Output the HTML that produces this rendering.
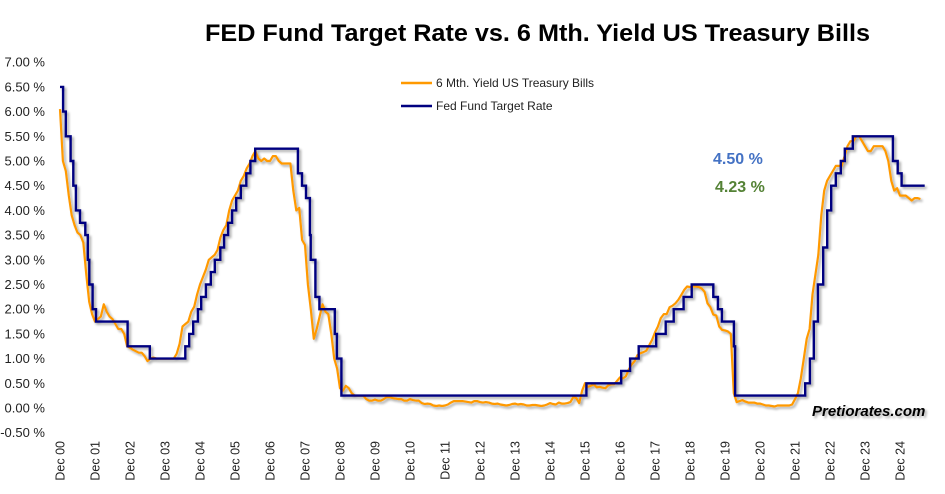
<!DOCTYPE html>
<html><head><meta charset="utf-8">
<style>
html,body{margin:0;padding:0;background:#fff;}
svg{display:block;font-family:"Liberation Sans",Arial,sans-serif;}
</style></head>
<body>
<svg id="chart" width="945" height="494" viewBox="0 0 945 494">
<defs>
<filter id="sh" x="-5%" y="-5%" width="110%" height="110%">
<feGaussianBlur in="SourceAlpha" stdDeviation="1.2"/>
<feOffset dx="2" dy="2" result="o"/>
<feComponentTransfer><feFuncA type="linear" slope="0.35"/></feComponentTransfer>
<feMerge><feMergeNode/><feMergeNode in="SourceGraphic"/></feMerge>
</filter>
</defs>
<text x="205" y="41" font-size="24" font-weight="bold" fill="#000" textLength="665" lengthAdjust="spacingAndGlyphs">FED Fund Target Rate vs. 6 Mth. Yield US Treasury Bills</text>
<g id="yaxis"></g>
<g id="xaxis"></g>
<g id="series" filter="url(#sh)"></g>
<g>
<line x1="401" y1="83" x2="432" y2="83" stroke="#FF9900" stroke-width="2.5"/>
<text x="436" y="87" font-size="12" fill="#222">6 Mth. Yield US Treasury Bills</text>
<line x1="401" y1="106" x2="432" y2="106" stroke="#000080" stroke-width="2.5"/>
<text x="436" y="110" font-size="12" fill="#222">Fed Fund Target Rate</text>
</g>
<text x="713" y="164" font-size="16" font-weight="bold" fill="#4472C4">4.50 %</text>
<text x="715" y="192" font-size="16" font-weight="bold" fill="#548235">4.23 %</text>
<text x="812" y="416" font-size="15" font-weight="bold" font-style="italic" fill="#000" filter="url(#sh)">Pretiorates.com</text>
</svg>
<script>
const yTicks = [-0.5,0,0.5,1,1.5,2,2.5,3,3.5,4,4.5,5,5.5,6,6.5,7];
const xTickLabels = ["Dec 00","Dec 01","Dec 02","Dec 03","Dec 04","Dec 05","Dec 06","Dec 07","Dec 08","Dec 09","Dec 10","Dec 11","Dec 12","Dec 13","Dec 14","Dec 15","Dec 16","Dec 17","Dec 18","Dec 19","Dec 20","Dec 21","Dec 22","Dec 23","Dec 24"];
const fedDates = ["2000-12-01","2001-01-03","2001-01-31","2001-03-20","2001-04-18","2001-05-15","2001-06-27","2001-08-21","2001-09-17","2001-10-02","2001-11-06","2001-12-11","2002-11-06","2003-06-25","2004-06-30","2004-08-10","2004-09-21","2004-11-10","2004-12-14","2005-02-02","2005-03-22","2005-05-03","2005-06-30","2005-08-09","2005-09-20","2005-11-01","2005-12-13","2006-01-31","2006-03-28","2006-05-10","2006-06-29","2007-09-18","2007-10-31","2007-12-11","2008-01-22","2008-01-30","2008-03-18","2008-04-30","2008-10-08","2008-10-29","2008-12-16","2015-12-16","2016-12-14","2017-03-15","2017-06-14","2017-12-13","2018-03-21","2018-06-13","2018-09-26","2018-12-19","2019-07-31","2019-09-18","2019-10-30","2020-03-03","2020-03-15","2022-03-16","2022-05-04","2022-06-15","2022-07-27","2022-09-21","2022-11-02","2022-12-14","2023-02-01","2023-03-22","2023-05-03","2023-07-26","2024-09-18","2024-11-07","2024-12-18","2025-08-15"];
const fedRates = [6.5,6.0,5.5,5.0,4.5,4.0,3.75,3.5,3.0,2.5,2.0,1.75,1.25,1.0,1.25,1.5,1.75,2.0,2.25,2.5,2.75,3.0,3.25,3.5,3.75,4.0,4.25,4.5,4.75,5.0,5.25,4.75,4.5,4.25,3.5,3.0,2.25,2.0,1.5,1.0,0.25,0.5,0.75,1.0,1.25,1.5,1.75,2.0,2.25,2.5,2.25,2.0,1.75,1.25,0.25,0.5,1.0,1.75,2.5,3.25,4.0,4.5,4.75,5.0,5.25,5.5,5.0,4.75,4.5,4.5];
const yieldStart = "2000-12-01";
const yieldMonthly = [6.05,
5.0,4.8,4.3,3.9,3.7,3.55,3.5,3.35,2.7,2.15,1.9,1.75,
1.8,1.85,2.1,1.95,1.85,1.8,1.7,1.6,1.6,1.5,1.25,1.22,
1.18,1.15,1.12,1.12,1.05,0.95,1.0,1.02,1.0,1.0,1.0,1.0,
1.0,1.0,1.0,1.1,1.3,1.65,1.7,1.75,1.95,2.05,2.3,2.5,
2.65,2.8,3.0,3.05,3.1,3.2,3.45,3.6,3.7,4.0,4.2,4.3,
4.4,4.6,4.7,4.85,4.95,5.1,5.2,5.05,5.0,5.05,5.0,5.0,
5.1,5.1,5.0,4.95,4.95,4.95,4.95,4.4,4.0,4.05,3.4,3.3,
2.5,2.0,1.4,1.6,1.85,2.1,1.95,1.9,1.5,1.0,0.8,0.4,
0.35,0.45,0.4,0.3,0.25,0.25,0.25,0.25,0.18,0.15,0.15,0.17,
0.15,0.15,0.18,0.22,0.22,0.2,0.19,0.18,0.18,0.15,0.15,0.18,
0.16,0.15,0.15,0.1,0.08,0.09,0.08,0.05,0.04,0.05,0.04,0.05,
0.07,0.11,0.14,0.14,0.14,0.14,0.13,0.12,0.11,0.14,0.14,0.12,
0.11,0.12,0.11,0.09,0.08,0.09,0.07,0.06,0.05,0.06,0.08,0.09,
0.07,0.08,0.07,0.05,0.05,0.06,0.06,0.05,0.04,0.05,0.07,0.1,
0.08,0.07,0.11,0.09,0.09,0.1,0.12,0.22,0.2,0.1,0.35,0.5,
0.43,0.45,0.48,0.42,0.43,0.41,0.4,0.46,0.48,0.48,0.55,0.62,
0.6,0.64,0.78,0.88,0.95,1.07,1.11,1.13,1.16,1.27,1.38,1.53,
1.65,1.82,1.9,1.9,2.04,2.07,2.12,2.19,2.29,2.39,2.46,2.45,
2.46,2.46,2.45,2.42,2.35,2.12,2.04,1.89,1.87,1.65,1.58,1.57,
1.55,1.5,0.3,0.12,0.14,0.16,0.13,0.11,0.11,0.11,0.09,0.09,
0.07,0.05,0.05,0.04,0.03,0.05,0.05,0.05,0.05,0.05,0.07,0.18,
0.3,0.6,1.0,1.4,1.6,2.3,2.7,3.1,3.9,4.4,4.6,4.7,
4.8,4.9,4.9,4.9,5.1,5.3,5.4,5.4,5.5,5.5,5.4,5.3,
5.2,5.2,5.3,5.3,5.3,5.3,5.2,5.0,4.6,4.4,4.45,4.3,
4.3,4.3,4.25,4.2,4.25,4.25,4.23];

const NS = "http://www.w3.org/2000/svg";
const X0 = 60, PXY = 35, Y0 = 408, PXP = 49.4;
function tOf(s){const p=s.split("-").map(Number);return (p[0]-2000)+(p[1]-12)/12+(p[2]-1)/365;}
function xs(t){return X0+PXY*t;}
function ys(v){return Y0-PXP*v;}
function mk(tag,attrs,parent){const e=document.createElementNS(NS,tag);for(const k in attrs)e.setAttribute(k,attrs[k]);parent.appendChild(e);return e;}

const ya=document.getElementById("yaxis");
yTicks.forEach(v=>{
  const t=mk("text",{x:45,y:ys(v)+4.5,"font-size":13,"text-anchor":"end",fill:"#222"},ya);
  
  
  t.textContent=v.toFixed(2)+" %";
});
const xa=document.getElementById("xaxis");
xTickLabels.forEach((lab,i)=>{
  const x=xs(i)+4.5;
  const t=mk("text",{x:0,y:0,"font-size":12.5,"text-anchor":"end",fill:"#222",transform:`translate(${x},441) rotate(-90)`},xa);
  
  
  t.textContent=lab;
});
const g=document.getElementById("series");
const ts0=tOf(yieldStart);
let d="";
yieldMonthly.forEach((v,i)=>{d+=(i?"L":"M")+xs(ts0+i/12).toFixed(1)+","+ys(v).toFixed(1);});
const yl=mk("path",{d:d,fill:"none",stroke:"#FF9900","stroke-width":2.2,"stroke-linejoin":"round"},g);


let fd="";
fedDates.forEach((ds,i)=>{
  const x=xs(tOf(ds)).toFixed(1);
  if(i===0) fd+="M"+x+","+ys(fedRates[0]).toFixed(1);
  else fd+="L"+x+","+ys(fedRates[i-1]).toFixed(1)+"L"+x+","+ys(fedRates[i]).toFixed(1);
});
const fl=mk("path",{d:fd,fill:"none",stroke:"#000080","stroke-width":2.4},g);


</script>
</body></html>
